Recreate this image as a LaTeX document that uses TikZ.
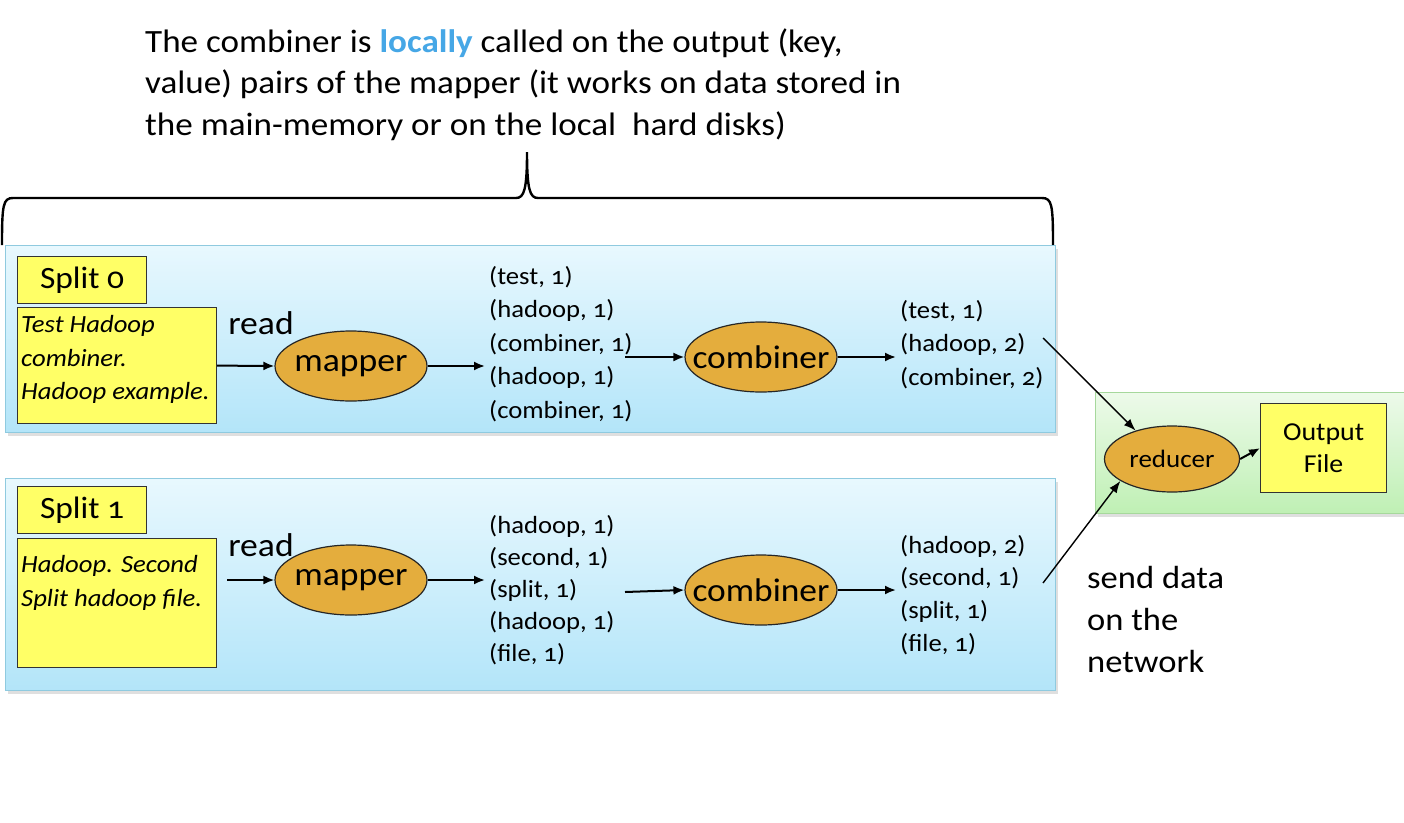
\documentclass[tikz,border=0pt]{standalone}
\usepackage{fontspec}
\setmainfont{Carlito}[Numbers=OldStyle, FakeStretch=1.08]
\usetikzlibrary{shapes.geometric,shadows,arrows.meta,calc}
\definecolor{bluetop}{HTML}{E8F8FE}
\definecolor{bluebot}{HTML}{B3E5F9}
\definecolor{bluebd}{HTML}{8FCADF}
\definecolor{greentop}{HTML}{EDFAEA}
\definecolor{greenbot}{HTML}{BFF0B4}
\definecolor{greenbd}{HTML}{A6D89C}
\definecolor{yel}{HTML}{FFFF66}
\definecolor{orng}{HTML}{E4AD3D}
\definecolor{lochi}{HTML}{46A7E6}
\newcommand{\ctr}[1]{\makebox[0pt]{#1}}
\begin{document}
\begin{tikzpicture}[x=1pt,y=-1pt,
  panel/.style={draw=bluebd, line width=1pt, top color=bluetop, bottom color=bluebot, anchor=north west, inner sep=0pt,
    drop shadow={shadow xshift=2pt, shadow yshift=-3pt, opacity=0.25}},
  gpanel/.style={draw=greenbd, line width=1pt, top color=greentop, bottom color=greenbot, anchor=north west, inner sep=0pt,
    drop shadow={shadow xshift=2pt, shadow yshift=-3pt, opacity=0.25}},
  ybox/.style={draw=black!80, line width=1.2pt, fill=yel, anchor=north west, inner sep=0pt},
  proc/.style={ellipse, draw=black!85, line width=1.2pt, fill=orng, inner sep=0pt},
  kv/.style={anchor=north west, align=left, inner sep=0pt, font=\fontsize{24.7}{33.5}\selectfont},
  flow/.style={line width=2pt, -{Latex[length=11pt,width=9pt]}},
  net/.style={line width=1.4pt, -{Latex[length=12pt,width=9pt]}},
]
\useasboundingbox (0,0) rectangle (1404,822);
\fill[white] (0,0) rectangle (1404,822);

% title
\node[anchor=north west, align=left, inner sep=0pt, font=\fontsize{32.5}{41.5}\selectfont] (title) at (145,28.2)
  {The combiner is \textbf{\color{lochi}locally} called on the output (key,\\value) pairs of the mapper (it works on data stored in\\the main-memory or on the local\ \ hard disks)};

% brace
\draw[line width=2.4pt] (2,245) .. controls (2,205) and (3,198) .. (13,198) -- (516,198)
  .. controls (524,198) and (527,190) .. (527,152)
  .. controls (527,190) and (530,198) .. (538,198) -- (1042,198)
  .. controls (1052,198) and (1053,205) .. (1053,245);

% panels
\node[panel, minimum width=1050pt, minimum height=187pt] (p0) at (5,245) {};
\node[panel, minimum width=1050pt, minimum height=212pt] (p1) at (5,478) {};
\node[gpanel, minimum width=320pt, minimum height=121pt] (pg) at (1095,392) {};

% split 0
\node[ybox, minimum width=129pt, minimum height=47pt, font=\fontsize{31}{32}\selectfont] (s0) at (17,256) {Split 0};
\node[ybox, minimum width=199pt, minimum height=116pt] (tb0) at (17,307) {};
\node[anchor=north west, align=left, inner sep=0pt, font=\fontsize{24.7}{33.5}\selectfont\itshape] (tt0) at (21,315.5)
  {Test Hadoop\\combiner.\\Hadoop example.};
\node[font=\fontsize{33}{34}\selectfont, inner sep=0pt] (rd0) at (261,323) {read};
\node[proc, minimum width=152pt, minimum height=70pt, font=\fontsize{33}{34}\selectfont] (m0) at (351,366) {\ctr{mapper}};
\node[kv] (l0) at (489,266) {(test, 1)\\(hadoop, 1)\\(combiner, 1)\\(hadoop, 1)\\(combiner, 1)};
\node[proc, minimum width=152pt, minimum height=70pt, font=\fontsize{32.8}{34}\selectfont] (c0) at (761,357) {\ctr{combiner}};
\node[kv] (o0) at (900,300) {(test, 1)\\(hadoop, 2)\\(combiner, 2)};

% split 1
\node[ybox, minimum width=129pt, minimum height=47pt, font=\fontsize{31}{32}\selectfont] (s1) at (17,486) {Split 1};
\node[ybox, minimum width=199pt, minimum height=129pt] (tb1) at (17,538) {};
\node[anchor=north west, align=left, inner sep=0pt, font=\fontsize{24.7}{33.5}\selectfont\itshape] (tt1) at (21,555.5)
  {Hadoop. Second\\Split hadoop file.};
\node[font=\fontsize{33}{34}\selectfont, inner sep=0pt] (rd1) at (261,545) {read};
\node[proc, minimum width=152pt, minimum height=70pt, font=\fontsize{33}{34}\selectfont] (m1) at (351,580) {\ctr{mapper}};
\node[kv, font=\fontsize{24.7}{32}\selectfont] (l1) at (489,515) {(hadoop, 1)\\(second, 1)\\(split, 1)\\(hadoop, 1)\\(file, 1)};
\node[proc, minimum width=152pt, minimum height=70pt, font=\fontsize{32.8}{34}\selectfont] (c1) at (761,590) {\ctr{combiner}};
\node[kv, font=\fontsize{24.7}{32.7}\selectfont] (o1) at (900,535) {(hadoop, 2)\\(second, 1)\\(split, 1)\\(file, 1)};

% reduce side
\node[proc, minimum width=135pt, minimum height=66pt, font=\fontsize{25}{26}\selectfont] (red) at (1172,459) {\ctr{reducer}};
\node[ybox, minimum width=126pt, minimum height=89pt, align=center, font=\fontsize{25.8}{32}\selectfont] (out) at (1260,403) {Output\\File};
\node[anchor=north west, align=left, inner sep=0pt, font=\fontsize{32}{42}\selectfont] (net) at (1087,566)
  {send data\\on the\\network};

% connector coordinates
\coordinate (r1s) at (227,580);
\coordinate (k0s) at (625,357);
\coordinate (k1s) at (625,592);
\coordinate (d0) at (1043,338);
\coordinate (d1) at (1043,583);

% arrows
\draw[flow] (tb0.east) -- (m0.west);
\draw[flow] (r1s) -- (m1.west);
\draw[flow] (m0.east) -- ($(m0.east -| l0.west)+(-4,0)$);
\draw[flow] (m1.east) -- ($(m1.east -| l1.west)+(-4,0)$);
\draw[flow] (k0s) -- (c0.west);
\draw[flow] (k1s) -- (c1.west);
\draw[flow] (c0.east) -- ($(c0.east -| o0.west)+(-4,0)$);
\draw[flow] (c1.east) -- ($(c1.east -| o1.west)+(-4,0)$);
\draw[net] (d0) -- (red.142);
\draw[net] (d1) -- (red.203);
\draw[flow] (red.east) -- (out.west);
\end{tikzpicture}
\end{document}
